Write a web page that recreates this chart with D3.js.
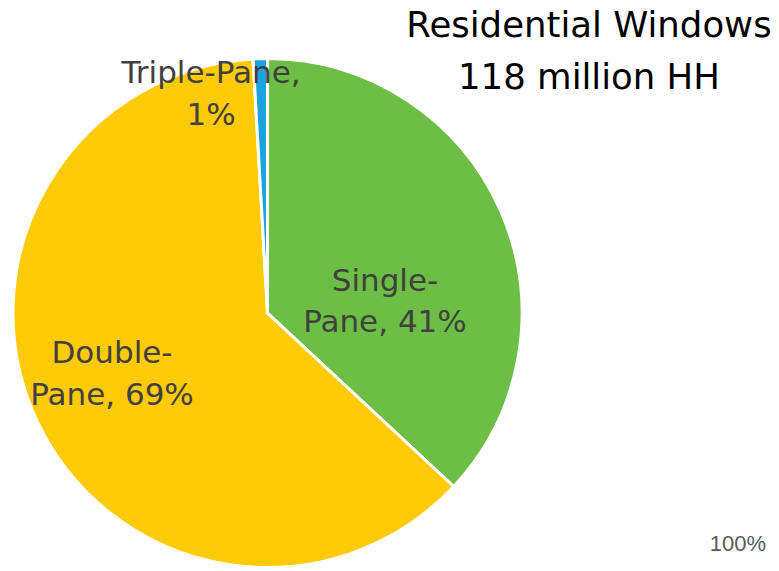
<!DOCTYPE html>
<html>
<head>
<meta charset="utf-8">
<script src="https://cdn.jsdelivr.net/npm/d3@7"></script>
<style>
  html, body { margin: 0; padding: 0; background: #ffffff; }
  svg { display: block; }
</style>
</head>
<body>
<svg id="chart" width="779" height="571"></svg>
<script>
// Window glazing types across households
const categories = ["Single-Pane", "Double-Pane", "Triple-Pane"];
const shares = [41, 69, 1];
const sliceColors = ["#6CBE45", "#FFCA08", "#1AA3DD"];
const labelLines = [
  ["Single-", "Pane, 41%"],
  ["Double-", "Pane, 69%"],
  ["Triple-Pane,", "1%"]
];
const titleLines = ["Residential Windows", "118 million HH"];
const totalLabel = "100%";

const svg = d3.select("#chart");
const cx = 267.5, cy = 313, radius = 254.5;

const data = categories.map((c, i) => ({ name: c, value: shares[i], color: sliceColors[i], lines: labelLines[i] }));

const pie = d3.pie().sort(null).value(d => d.value);
const arc = d3.arc().innerRadius(0).outerRadius(radius);
const arcs = pie(data);

const g = svg.append("g").attr("transform", `translate(${cx},${cy})`);

g.selectAll("path.slice")
  .data(arcs)
  .join("path")
  .attr("class", "slice")
  .attr("d", arc)
  .attr("fill", d => d.data.color)
  .attr("stroke", "#ffffff")
  .attr("stroke-width", 3)
  .attr("stroke-linejoin", "miter");

// Label block centres relative to the pie centre (layout only)
const labelOffsets = [[117.5, -1.5], [-155.5, 71], [-56.5, -209]];
const labelFont = "'DejaVu Sans', sans-serif";
const lineGap = 41.5;

arcs.forEach((a, i) => {
  const [x, y] = labelOffsets[i];
  const t = g.append("text")
    .attr("text-anchor", "middle")
    .attr("font-family", labelFont)
    .attr("font-size", 31)
    .attr("fill", "#404040");
  a.data.lines.forEach((ln, j) => {
    t.append("tspan")
      .attr("x", x)
      .attr("y", y + (j - (a.data.lines.length - 1) / 2) * lineGap)
      .text(ln);
  });
});

// Title block
const title = svg.append("text")
  .attr("text-anchor", "middle")
  .attr("font-family", labelFont)
  .attr("font-size", 35.5)
  .attr("fill", "#000000");
titleLines.forEach((ln, j) => {
  title.append("tspan").attr("x", 589).attr("y", 37 + j * 52).text(ln);
});

// Total marker
svg.append("text")
  .attr("x", 766)
  .attr("y", 551)
  .attr("text-anchor", "end")
  .attr("font-family", "'Liberation Sans', Arial, sans-serif")
  .attr("font-size", 22)
  .attr("fill", "#595959")
  .text(totalLabel);
</script>
</body>
</html>
